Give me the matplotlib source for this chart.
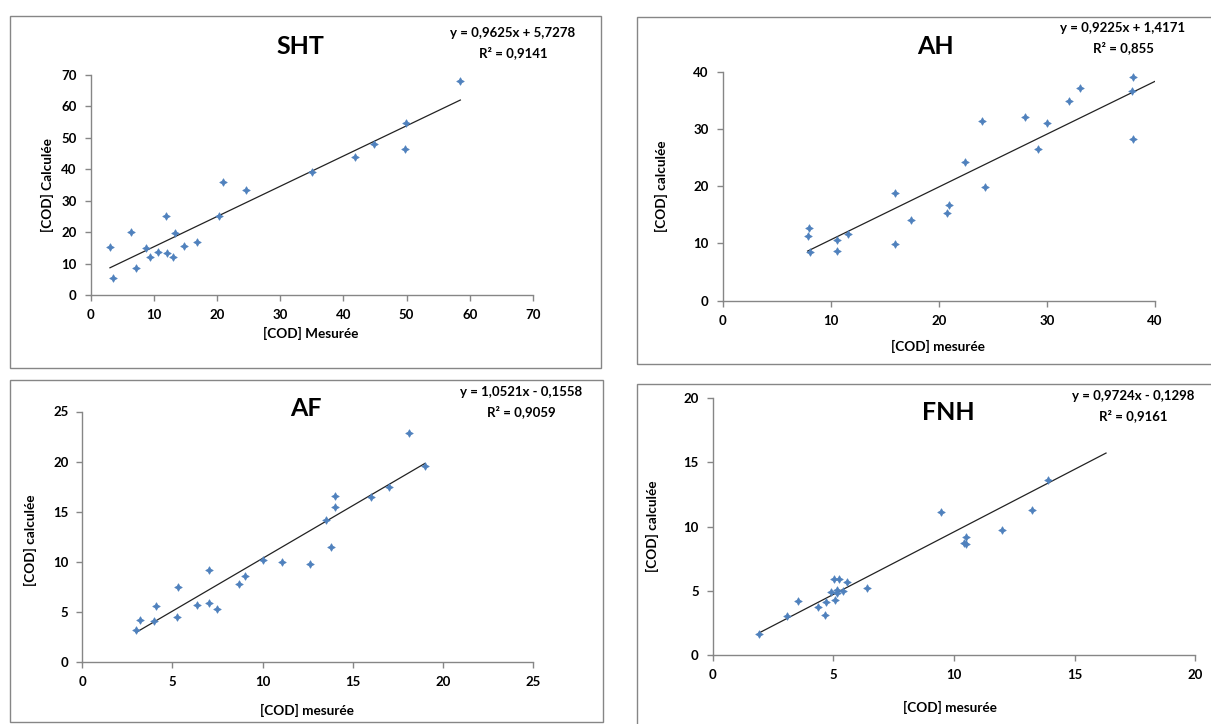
import matplotlib
matplotlib.use("Agg")
import matplotlib.pyplot as plt
from matplotlib.patches import Rectangle

plt.rcParams['font.family'] = ['Lato', 'DejaVu Sans']

W, H = 1211, 724
blue = '#4F81BD'
grey = '#868686'

# SHT
sht_x = [3.05, 3.6, 6.3, 7.1, 8.8, 9.4, 10.6, 11.9, 12.0, 13.1, 13.3, 14.8, 16.9,
         20.3, 20.9, 24.5, 35.0, 41.9, 44.8, 49.7, 49.9, 58.5]
sht_y = [15.4, 5.5, 20.0, 8.6, 14.9, 12.2, 13.8, 25.1, 13.4, 12.2, 19.6, 15.7, 16.9,
         25.1, 35.9, 33.3, 39.1, 43.8, 48.1, 46.6, 54.8, 68.1]
sht_fit = (0.9625, 5.7278)
sht_trend_end = 58.5

# AH
ah_x = [7.86, 7.99, 8.08, 10.55, 10.58, 11.6, 15.97, 15.97, 17.4, 20.8, 20.9, 22.4,
        23.96, 24.3, 28.0, 29.2, 30.0, 32.0, 33.1, 37.96, 37.9, 38.0]
ah_y = [11.35, 12.7, 8.44, 10.6, 8.68, 11.65, 18.8, 9.96, 14.15, 15.25, 16.7, 24.2,
        31.4, 19.9, 32.0, 26.5, 31.0, 34.9, 37.1, 39.0, 36.6, 28.2]
ah_fit = (0.9225, 1.4171)
ah_trend_end = 40.0

# AF
af_x = [2.99, 3.2, 4.0, 4.08, 5.25, 5.32, 6.34, 7.02, 7.02, 7.45, 8.67, 9.02, 10.03,
        11.07, 12.64, 13.49, 13.78, 13.99, 13.99, 15.98, 16.98, 18.09, 18.99]
af_y = [3.26, 4.25, 4.12, 5.61, 4.49, 7.48, 5.71, 5.88, 9.2, 5.35, 7.84, 8.57, 10.17,
        10.03, 9.8, 14.2, 11.53, 15.45, 16.58, 16.45, 17.44, 22.86, 19.53]
af_fit = (1.0521, -0.1558)
af_trend_end = 18.99

# FNH
fnh_x = [1.93, 3.08, 3.55, 4.35, 4.65, 4.7, 4.9, 5.01, 5.06, 5.15, 5.17, 5.23, 5.41,
         5.57, 6.38, 9.46, 10.41, 10.51, 10.51, 11.98, 13.23, 13.9]
fnh_y = [1.68, 3.08, 4.22, 3.76, 3.11, 4.15, 4.9, 5.93, 4.33, 4.84, 5.1, 5.93, 5.0,
         5.73, 5.26, 11.14, 8.76, 9.17, 8.65, 9.72, 11.32, 13.6]
fnh_fit = (0.9724, -0.1298)
fnh_trend_end = 16.3

fig = plt.figure(figsize=(W / 100, H / 100), dpi=100)
fig.patch.set_facecolor('white')


def px(x, y):
    return x / W, 1 - y / H


def box(x0, y0, x1, y1):
    fig.patches.append(Rectangle(px(x0, y1), (x1 - x0) / W, (y1 - y0) / H,
                                 transform=fig.transFigure, fill=False,
                                 edgecolor=grey, linewidth=1.0))


def panel(rect, xs, ys, fit, xend, xmax, ymax, step_x, step_y,
          title, tpos, eq, r2, epos, xlab, xlpos, ylab, ylpos):
    l, b, r, t = rect
    ax = fig.add_axes([l / W, 1 - b / H, (r - l) / W, (b - t) / H])
    ax.set_xlim(0, xmax)
    ax.set_ylim(0, ymax)
    ax.set_xticks(range(0, xmax + 1, step_x))
    ax.set_yticks(range(0, ymax + 1, step_y))
    for s in ['top', 'right']:
        ax.spines[s].set_visible(False)
    for s in ['left', 'bottom']:
        ax.spines[s].set_color(grey)
        ax.spines[s].set_linewidth(1.0)
    ax.tick_params(direction='out', length=4, width=1, color=grey,
                   labelsize=9.5, pad=6)
    for lab in ax.get_xticklabels() + ax.get_yticklabels():
        lab.set_fontweight('bold')
    ax.patch.set_alpha(0)

    x0 = min(xs)
    ax.plot([x0, xend], [fit[0] * x0 + fit[1], fit[0] * xend + fit[1]],
            color='#222222', linewidth=0.9, zorder=2)
    ax.plot(xs, ys, linestyle='none', marker=(4, 1, 0), markersize=5.5,
            color=blue, markeredgewidth=0.5, zorder=3, clip_on=False)

    fig.text(*px(*tpos), title, fontsize=18, fontweight='bold',
             ha='center', va='center')
    fig.text(*px(epos[0], epos[1]), eq, fontsize=9.5, fontweight='bold',
             ha='center', va='center')
    fig.text(*px(epos[0], epos[1] + 20), r2, fontsize=9.5, fontweight='bold',
             ha='center', va='center')
    fig.text(*px(*xlpos), xlab, fontsize=9.8, fontweight='bold',
             ha='center', va='center')
    fig.text(*px(*ylpos), ylab, fontsize=9.8, fontweight='bold',
             ha='center', va='center', rotation=90)


box(10, 16, 601, 368)
box(637, 17, 1230, 364)
box(10, 380, 603, 722)
box(637, 384, 1230, 740)

panel((90.7, 295, 533, 75), sht_x, sht_y, sht_fit, sht_trend_end, 70, 70, 10, 10,
      'SHT', (300, 46), 'y = 0,9625x + 5,7278', 'R² = 0,9141', (513, 33),
      '[COD] Mesurée', (311, 333), '[COD] Calculée', (47, 185))
panel((722.7, 300.7, 1155, 71.7), ah_x, ah_y, ah_fit, ah_trend_end, 40, 40, 10, 10,
      'AH', (935, 46), 'y = 0,9225x + 1,4171', 'R² = 0,855', (1123, 28),
      '[COD] mesurée', (938, 346), '[COD] calculée', (661, 186))
panel((82.3, 662.3, 533.3, 411.5), af_x, af_y, af_fit, af_trend_end, 25, 25, 5, 5,
      'AF', (306, 409), 'y = 1,0521x - 0,1558', 'R² = 0,9059', (521, 392),
      '[COD] mesurée', (307, 710), '[COD] calculée', (30, 540))
panel((712.7, 655.3, 1195.3, 398), fnh_x, fnh_y, fnh_fit, fnh_trend_end, 20, 20, 5, 5,
      'FNH', (948, 413), 'y = 0,9724x - 0,1298', 'R² = 0,9161', (1133, 396),
      '[COD] mesurée', (950, 707), '[COD] calculée', (652, 526))

fig.savefig('out.png', dpi=100)
